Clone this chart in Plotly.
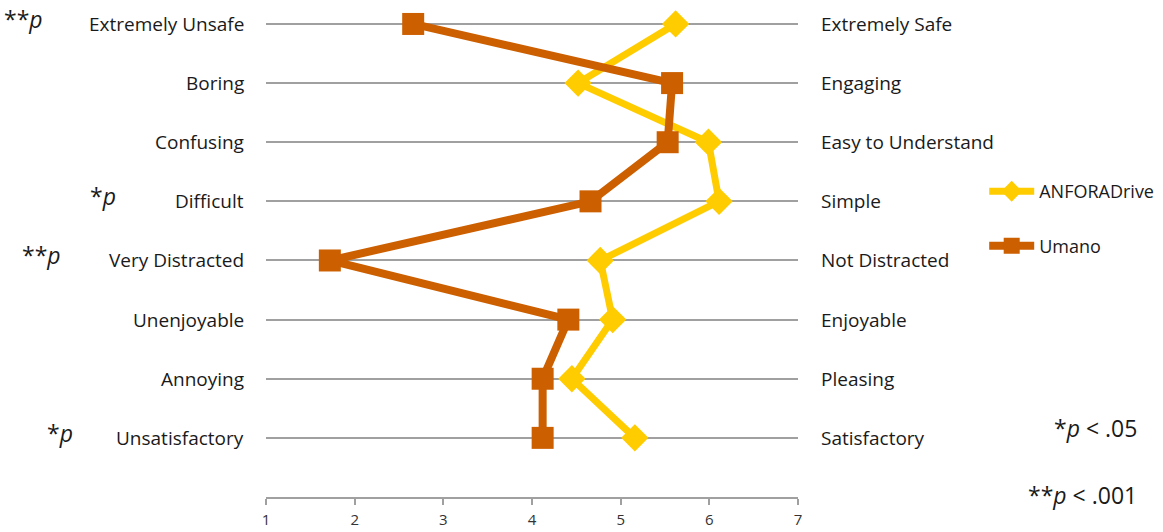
import plotly.graph_objects as go

left_labels = ["Extremely Unsafe", "Boring", "Confusing", "Difficult", "Very Distracted",
               "Unenjoyable", "Annoying", "Unsatisfactory"]
right_labels = ["Extremely Safe", "Engaging", "Easy to Understand", "Simple", "Not Distracted",
                "Enjoyable", "Pleasing", "Satisfactory"]
significance = ["**", "", "", "*", "**", "", "", "*"]
anfora = [5.62, 4.52, 5.99, 6.11, 4.77, 4.91, 4.45, 5.16]
umano = [2.66, 5.58, 5.53, 4.66, 1.72, 4.41, 4.12, 4.12]
x_ticks = [1, 2, 3, 4, 5, 6, 7]

# layout: right edge (paper x) of each significance marker
sig_x = [-0.415, None, None, -0.278, -0.382, None, None, -0.359]

n = len(left_labels)
ypos = [n - i for i in range(n)]

FONT = "Open Sans"
YELLOW = "#FFCC00"
ORANGE = "#CC5F00"
TXT = "#1a1a1a"

fig = go.Figure()
fig.add_trace(go.Scatter(x=anfora, y=ypos, mode="lines+markers", name="ANFORADrive",
                         line=dict(color=YELLOW, width=7),
                         marker=dict(symbol="diamond", size=21, color=YELLOW),
                         cliponaxis=False, legendgroup="a"))
fig.add_trace(go.Scatter(x=umano, y=ypos, mode="lines+markers", name="Umano",
                         line=dict(color=ORANGE, width=8),
                         marker=dict(symbol="square", size=22, color=ORANGE),
                         cliponaxis=False, legendgroup="b"))

ann = []
for yv, l, r, s, sx in zip(ypos, left_labels, right_labels, significance, sig_x):
    ann.append(dict(x=-0.038, y=yv, xref="paper", yref="y", text=l, showarrow=False,
                    xanchor="right", yanchor="middle", font=dict(size=19, color=TXT, family=FONT)))
    ann.append(dict(x=1.04, y=yv, xref="paper", yref="y", text=r, showarrow=False,
                    xanchor="left", yanchor="middle", font=dict(size=19, color=TXT, family=FONT)))
    if s:
        ann.append(dict(x=sx, y=yv, yshift=5, xref="paper", yref="y",
                        text=s + "<i>p</i>", showarrow=False, xanchor="right", yanchor="middle",
                        font=dict(size=23, color=TXT, family=FONT)))
ann.append(dict(x=1.641, y=0.146, xref="paper", yref="paper", text="*<i>p</i> < .05", showarrow=False,
                xanchor="right", yanchor="middle", font=dict(size=23, color=TXT, family=FONT)))
ann.append(dict(x=1.641, y=0.004, xref="paper", yref="paper", text="**<i>p</i> < .001", showarrow=False,
                xanchor="right", yanchor="middle", font=dict(size=23, color=TXT, family=FONT)))

fig.update_layout(
    width=1163, height=532,
    margin=dict(l=266, r=365, t=21, b=35, autoexpand=False),
    paper_bgcolor="white", plot_bgcolor="white",
    font=dict(family=FONT, color=TXT),
    xaxis=dict(range=[1, 7], tickvals=x_ticks, showgrid=False, zeroline=False,
               showline=True, linecolor="#A0A0A0", linewidth=2, ticks="outside",
               tickcolor="#A0A0A0", ticklen=6, tickwidth=2, ticklabelstandoff=2,
               tickfont=dict(size=15, color="#333", family=FONT)),
    yaxis=dict(range=[0, n + 0.05], tickvals=ypos, showticklabels=False, showgrid=True,
               gridcolor="#A0A0A0", gridwidth=2, zeroline=False, showline=False),
    legend=dict(x=1.35, y=0.585, xanchor="left", yanchor="middle", tracegroupgap=28,
                itemwidth=45,
                font=dict(size=18, color=TXT, family=FONT), bgcolor="rgba(0,0,0,0)"),
    showlegend=True,
    annotations=ann,
)
fig.write_html("out.html", config={"displayModeBar": False},
               post_script="document.body.style.margin='0px';document.body.style.overflow='hidden';")
